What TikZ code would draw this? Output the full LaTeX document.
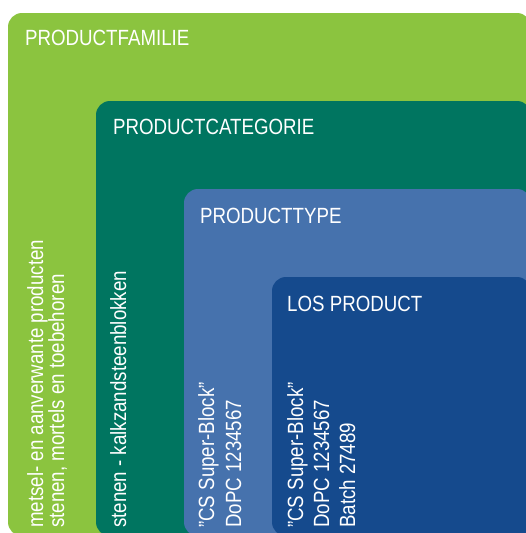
\documentclass[tikz,border=0pt]{standalone}
\usepackage{fontspec}
\setmainfont[FakeStretch=0.85]{Liberation Sans}
\usepackage{tikz}

\definecolor{famgreen}{RGB}{139,196,63}
\definecolor{catgreen}{RGB}{0,117,96}
\definecolor{typeblue}{RGB}{70,114,173}
\definecolor{losblue}{RGB}{21,74,141}

\begin{document}
\begin{tikzpicture}[x=1pt, y=1pt,
    level box/.style={rounded corners=14pt},
    title node/.style={anchor=base west, inner sep=0pt, text=white,
                       font=\fontsize{22}{22}\selectfont},
    side node/.style={rotate=90, anchor=north west, inner sep=0pt,
                      align=left, text=white}]

  \useasboundingbox (0,0) rectangle (526,-533);
  \clip (0,0) rectangle (526,-533);

  % nested levels
  \fill[level box, famgreen] (8,-13) rectangle (531,-536);
  \fill[level box, catgreen] (96,-101) rectangle (531,-536);
  \fill[level box, typeblue] (184,-189) rectangle (531,-536);
  \fill[level box, losblue] (272,-277) rectangle (531,-536);

  \node[title node] (fam) at (25,-45) {PRODUCTFAMILIE};
  \node[title node] (cat) at (113,-134) {PRODUCTCATEGORIE};
  \node[title node] (type) at (200,-223) {PRODUCTTYPE};
  \node[title node] (los) at (287,-311) {LOS PRODUCT};

  \node[side node, font=\fontsize{22}{21}\selectfont] (famtext) at (27,-528)
    {metsel- en aanverwante producten\\stenen, mortels en toebehoren};
  \node[side node, font=\fontsize{22}{27}\selectfont] (cattext) at (110,-528)
    {stenen - kalkzandsteenblokken};
  \node[side node, font=\fontsize{22}{27}\selectfont] (typetext) at (198,-528)
    {”CS Super-Block”\\DoPC 1234567};
  \node[side node, font=\fontsize{22}{26}\selectfont] (lostext) at (287,-528)
    {”CS Super-Block”\\DoPC 1234567\\Batch 27489};
\end{tikzpicture}
\end{document}
